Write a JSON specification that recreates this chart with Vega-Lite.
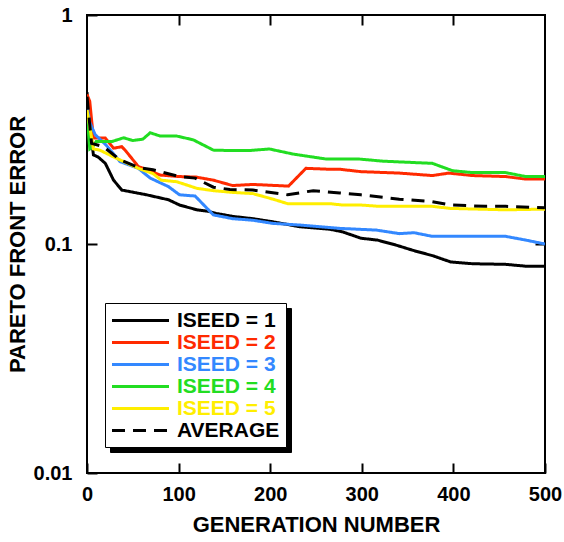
{
  "$schema": "https://vega.github.io/schema/vega-lite/v6.json",
  "width": 458,
  "height": 458,
  "autosize": "none",
  "padding": {"left": 87, "top": 15, "right": 19, "bottom": 69},
  "background": "white",
  "config": {
    "font": "Liberation Sans",
    "view": {"stroke": "black", "strokeWidth": 2},
    "axis": {
      "grid": false,
      "domain": false,
      "tickColor": "black",
      "tickWidth": 2,
      "tickSize": -10,
      "labelFont": "Liberation Sans",
      "labelFontWeight": "bold",
      "labelFontSize": 20,
      "labelColor": "black",
      "titleFont": "Liberation Sans",
      "titleFontWeight": "bold",
      "titleFontSize": 22,
      "titleColor": "black"
    }
  },
  "data": {
    "values": [
      {"series": "ISEED = 1", "gen": 0, "err": 0.46},
      {"series": "ISEED = 1", "gen": 3, "err": 0.33},
      {"series": "ISEED = 1", "gen": 7, "err": 0.245},
      {"series": "ISEED = 1", "gen": 12, "err": 0.24},
      {"series": "ISEED = 1", "gen": 20, "err": 0.225},
      {"series": "ISEED = 1", "gen": 29, "err": 0.19},
      {"series": "ISEED = 1", "gen": 38, "err": 0.172},
      {"series": "ISEED = 1", "gen": 65, "err": 0.164},
      {"series": "ISEED = 1", "gen": 89, "err": 0.156},
      {"series": "ISEED = 1", "gen": 101, "err": 0.148},
      {"series": "ISEED = 1", "gen": 120, "err": 0.141},
      {"series": "ISEED = 1", "gen": 132, "err": 0.139},
      {"series": "ISEED = 1", "gen": 141, "err": 0.136},
      {"series": "ISEED = 1", "gen": 159, "err": 0.132},
      {"series": "ISEED = 1", "gen": 181, "err": 0.129},
      {"series": "ISEED = 1", "gen": 203, "err": 0.125},
      {"series": "ISEED = 1", "gen": 232, "err": 0.119},
      {"series": "ISEED = 1", "gen": 265, "err": 0.116},
      {"series": "ISEED = 1", "gen": 279, "err": 0.113},
      {"series": "ISEED = 1", "gen": 299, "err": 0.106},
      {"series": "ISEED = 1", "gen": 317, "err": 0.104},
      {"series": "ISEED = 1", "gen": 337, "err": 0.099},
      {"series": "ISEED = 1", "gen": 359, "err": 0.093},
      {"series": "ISEED = 1", "gen": 377, "err": 0.089},
      {"series": "ISEED = 1", "gen": 397, "err": 0.0835},
      {"series": "ISEED = 1", "gen": 421, "err": 0.082},
      {"series": "ISEED = 1", "gen": 457, "err": 0.0815},
      {"series": "ISEED = 1", "gen": 479, "err": 0.08},
      {"series": "ISEED = 1", "gen": 500, "err": 0.08},

      {"series": "ISEED = 2", "gen": 0, "err": 0.45},
      {"series": "ISEED = 2", "gen": 3, "err": 0.42},
      {"series": "ISEED = 2", "gen": 7, "err": 0.29},
      {"series": "ISEED = 2", "gen": 20, "err": 0.29},
      {"series": "ISEED = 2", "gen": 29, "err": 0.262},
      {"series": "ISEED = 2", "gen": 38, "err": 0.266},
      {"series": "ISEED = 2", "gen": 43, "err": 0.253},
      {"series": "ISEED = 2", "gen": 56, "err": 0.218},
      {"series": "ISEED = 2", "gen": 80, "err": 0.2},
      {"series": "ISEED = 2", "gen": 101, "err": 0.197},
      {"series": "ISEED = 2", "gen": 119, "err": 0.196},
      {"series": "ISEED = 2", "gen": 138, "err": 0.19},
      {"series": "ISEED = 2", "gen": 159, "err": 0.18},
      {"series": "ISEED = 2", "gen": 181, "err": 0.182},
      {"series": "ISEED = 2", "gen": 220, "err": 0.179},
      {"series": "ISEED = 2", "gen": 239, "err": 0.214},
      {"series": "ISEED = 2", "gen": 265, "err": 0.212},
      {"series": "ISEED = 2", "gen": 276, "err": 0.212},
      {"series": "ISEED = 2", "gen": 299, "err": 0.207},
      {"series": "ISEED = 2", "gen": 341, "err": 0.204},
      {"series": "ISEED = 2", "gen": 377, "err": 0.199},
      {"series": "ISEED = 2", "gen": 395, "err": 0.204},
      {"series": "ISEED = 2", "gen": 421, "err": 0.199},
      {"series": "ISEED = 2", "gen": 457, "err": 0.197},
      {"series": "ISEED = 2", "gen": 479, "err": 0.192},
      {"series": "ISEED = 2", "gen": 500, "err": 0.192},

      {"series": "ISEED = 3", "gen": 0, "err": 0.4},
      {"series": "ISEED = 3", "gen": 3, "err": 0.34},
      {"series": "ISEED = 3", "gen": 9, "err": 0.3},
      {"series": "ISEED = 3", "gen": 21, "err": 0.27},
      {"series": "ISEED = 3", "gen": 36, "err": 0.229},
      {"series": "ISEED = 3", "gen": 56, "err": 0.214},
      {"series": "ISEED = 3", "gen": 69, "err": 0.194},
      {"series": "ISEED = 3", "gen": 89, "err": 0.178},
      {"series": "ISEED = 3", "gen": 101, "err": 0.164},
      {"series": "ISEED = 3", "gen": 118, "err": 0.162},
      {"series": "ISEED = 3", "gen": 138, "err": 0.134},
      {"series": "ISEED = 3", "gen": 159, "err": 0.129},
      {"series": "ISEED = 3", "gen": 181, "err": 0.127},
      {"series": "ISEED = 3", "gen": 203, "err": 0.123},
      {"series": "ISEED = 3", "gen": 232, "err": 0.121},
      {"series": "ISEED = 3", "gen": 265, "err": 0.118},
      {"series": "ISEED = 3", "gen": 276, "err": 0.117},
      {"series": "ISEED = 3", "gen": 316, "err": 0.115},
      {"series": "ISEED = 3", "gen": 341, "err": 0.111},
      {"series": "ISEED = 3", "gen": 357, "err": 0.112},
      {"series": "ISEED = 3", "gen": 377, "err": 0.108},
      {"series": "ISEED = 3", "gen": 457, "err": 0.108},
      {"series": "ISEED = 3", "gen": 479, "err": 0.104},
      {"series": "ISEED = 3", "gen": 500, "err": 0.1},

      {"series": "ISEED = 4", "gen": 0, "err": 0.37},
      {"series": "ISEED = 4", "gen": 3, "err": 0.26},
      {"series": "ISEED = 4", "gen": 6, "err": 0.265},
      {"series": "ISEED = 4", "gen": 10, "err": 0.28},
      {"series": "ISEED = 4", "gen": 27, "err": 0.28},
      {"series": "ISEED = 4", "gen": 40, "err": 0.291},
      {"series": "ISEED = 4", "gen": 50, "err": 0.283},
      {"series": "ISEED = 4", "gen": 61, "err": 0.287},
      {"series": "ISEED = 4", "gen": 69, "err": 0.306},
      {"series": "ISEED = 4", "gen": 80, "err": 0.296},
      {"series": "ISEED = 4", "gen": 98, "err": 0.296},
      {"series": "ISEED = 4", "gen": 116, "err": 0.285},
      {"series": "ISEED = 4", "gen": 138, "err": 0.257},
      {"series": "ISEED = 4", "gen": 156, "err": 0.256},
      {"series": "ISEED = 4", "gen": 178, "err": 0.256},
      {"series": "ISEED = 4", "gen": 199, "err": 0.26},
      {"series": "ISEED = 4", "gen": 225, "err": 0.247},
      {"series": "ISEED = 4", "gen": 261, "err": 0.235},
      {"series": "ISEED = 4", "gen": 297, "err": 0.235},
      {"series": "ISEED = 4", "gen": 323, "err": 0.23},
      {"series": "ISEED = 4", "gen": 377, "err": 0.225},
      {"series": "ISEED = 4", "gen": 399, "err": 0.209},
      {"series": "ISEED = 4", "gen": 421, "err": 0.205},
      {"series": "ISEED = 4", "gen": 457, "err": 0.205},
      {"series": "ISEED = 4", "gen": 479, "err": 0.197},
      {"series": "ISEED = 4", "gen": 500, "err": 0.197},

      {"series": "ISEED = 5", "gen": 0, "err": 0.385},
      {"series": "ISEED = 5", "gen": 7, "err": 0.26},
      {"series": "ISEED = 5", "gen": 14, "err": 0.257},
      {"series": "ISEED = 5", "gen": 29, "err": 0.24},
      {"series": "ISEED = 5", "gen": 40, "err": 0.229},
      {"series": "ISEED = 5", "gen": 56, "err": 0.214},
      {"series": "ISEED = 5", "gen": 72, "err": 0.203},
      {"series": "ISEED = 5", "gen": 81, "err": 0.19},
      {"series": "ISEED = 5", "gen": 98, "err": 0.187},
      {"series": "ISEED = 5", "gen": 120, "err": 0.175},
      {"series": "ISEED = 5", "gen": 138, "err": 0.171},
      {"series": "ISEED = 5", "gen": 159, "err": 0.168},
      {"series": "ISEED = 5", "gen": 181, "err": 0.166},
      {"series": "ISEED = 5", "gen": 203, "err": 0.157},
      {"series": "ISEED = 5", "gen": 219, "err": 0.15},
      {"series": "ISEED = 5", "gen": 265, "err": 0.15},
      {"series": "ISEED = 5", "gen": 279, "err": 0.148},
      {"series": "ISEED = 5", "gen": 299, "err": 0.148},
      {"series": "ISEED = 5", "gen": 319, "err": 0.146},
      {"series": "ISEED = 5", "gen": 377, "err": 0.146},
      {"series": "ISEED = 5", "gen": 397, "err": 0.143},
      {"series": "ISEED = 5", "gen": 457, "err": 0.141},
      {"series": "ISEED = 5", "gen": 500, "err": 0.142},

      {"series": "AVERAGE", "gen": 0, "err": 0.44},
      {"series": "AVERAGE", "gen": 5, "err": 0.275},
      {"series": "AVERAGE", "gen": 18, "err": 0.266},
      {"series": "AVERAGE", "gen": 36, "err": 0.233},
      {"series": "AVERAGE", "gen": 56, "err": 0.216},
      {"series": "AVERAGE", "gen": 72, "err": 0.211},
      {"series": "AVERAGE", "gen": 101, "err": 0.197},
      {"series": "AVERAGE", "gen": 118, "err": 0.194},
      {"series": "AVERAGE", "gen": 138, "err": 0.177},
      {"series": "AVERAGE", "gen": 156, "err": 0.173},
      {"series": "AVERAGE", "gen": 181, "err": 0.172},
      {"series": "AVERAGE", "gen": 219, "err": 0.164},
      {"series": "AVERAGE", "gen": 239, "err": 0.169},
      {"series": "AVERAGE", "gen": 247, "err": 0.171},
      {"series": "AVERAGE", "gen": 276, "err": 0.167},
      {"series": "AVERAGE", "gen": 299, "err": 0.164},
      {"series": "AVERAGE", "gen": 341, "err": 0.157},
      {"series": "AVERAGE", "gen": 377, "err": 0.153},
      {"series": "AVERAGE", "gen": 397, "err": 0.148},
      {"series": "AVERAGE", "gen": 435, "err": 0.146},
      {"series": "AVERAGE", "gen": 457, "err": 0.146},
      {"series": "AVERAGE", "gen": 500, "err": 0.144}
    ]
  },
  "layer": [
    {
      "mark": {"type": "point", "opacity": 0},
      "encoding": {
        "x": {
          "field": "gen", "type": "quantitative",
          "axis": {"orient": "top", "values": [100, 200, 300, 400], "labels": false, "title": null}
        },
        "y": {
          "field": "err", "type": "quantitative",
          "axis": {"orient": "right", "values": [0.1], "labels": false, "title": null}
        },
        "shape": {
          "field": "series", "type": "nominal",
          "scale": {
            "domain": ["AVERAGE", "ISEED = 5", "ISEED = 4", "ISEED = 3", "ISEED = 2", "ISEED = 1"],
            "range": ["M-2.85,0H2.85", "M-2.85,0H2.85", "M-2.85,0H2.85", "M-2.85,0H2.85", "M-2.85,0H2.85", "M-2.85,0H2.85"]
          },
          "legend": {
            "title": null,
            "orient": "none",
            "legendX": 23,
            "legendY": 293,
            "zindex": 1,
            "padding": 6,
            "strokeColor": "black",
            "fillColor": "black",
            "symbolSize": 400,
            "symbolStrokeWidth": 3,
            "symbolOffset": 18,
            "symbolOpacity": 0,
            "labelFont": "Liberation Sans",
            "labelFontWeight": "bold",
            "labelFontSize": 21,
            "labelOffset": 25,
            "labelLimit": 300,
            "rowPadding": 0,
            "labelExpr": "datum.label + '\u00a0\u00a0\u00a0'",
            "labelColor": "black"
          }
        }
      }
    },
    {
      "mark": {"type": "line", "strokeWidth": 3, "clip": true},
      "encoding": {
        "x": {
          "field": "gen", "type": "quantitative",
          "scale": {"domain": [0, 500], "nice": false},
          "axis": {"orient": "bottom", "values": [0, 100, 200, 300, 400, 500], "labelPadding": 21, "title": "GENERATION NUMBER", "titlePadding": 10, "labelFlush": false}
        },
        "y": {
          "field": "err", "type": "quantitative",
          "scale": {"type": "log", "domain": [0.01, 1], "nice": false},
          "axis": {"orient": "left", "values": [0.01, 0.1, 1], "format": "~g", "labelPadding": 25, "title": "PARETO FRONT ERROR", "titlePadding": 4, "labelFlush": false}
        },
        "color": {
          "field": "series", "type": "nominal",
          "scale": {
            "domain": ["ISEED = 1", "ISEED = 2", "ISEED = 3", "ISEED = 4", "ISEED = 5", "AVERAGE"],
            "range": ["#000000", "#ff2a00", "#3388ff", "#22dd22", "#ffee00", "#000000"]
          },
          "legend": {
            "title": null,
            "orient": "none",
            "legendX": 18,
            "legendY": 288,
            "zindex": 2,
            "padding": 6,
            "strokeColor": "black",
            "fillColor": "white",
            "symbolType": "M-2.85,0H2.85",
            "symbolSize": 400,
            "symbolStrokeWidth": 3,
            "symbolOffset": 18,
            "labelFont": "Liberation Sans",
            "labelFontWeight": "bold",
            "labelFontSize": 21,
            "labelOffset": 25,
            "labelLimit": 300,
            "rowPadding": 0,
            "labelExpr": "datum.label + '\u00a0\u00a0\u00a0'",
            "labelColor": {"expr": "scale('color', datum.value)"}
          }
        },
        "strokeDash": {
          "field": "series", "type": "nominal",
          "scale": {
            "domain": ["ISEED = 1", "ISEED = 2", "ISEED = 3", "ISEED = 4", "ISEED = 5", "AVERAGE"],
            "range": [[1, 0], [1, 0], [1, 0], [1, 0], [1, 0], [13, 8]]
          }
        }
      }
    }
  ],
  "resolve": {"axis": {"x": "independent", "y": "independent"}}
}
